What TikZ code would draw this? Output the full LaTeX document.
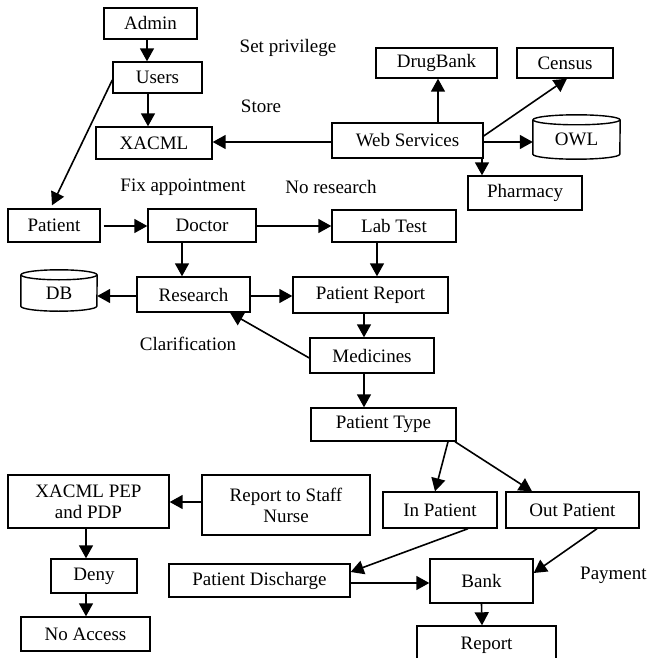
\documentclass[tikz,border=0pt]{standalone}
\usepackage{fontspec}
\setmainfont{Liberation Serif}
\usetikzlibrary{arrows.meta}
\begin{document}
\begin{tikzpicture}[x=1pt,y=-1pt,
  bx/.style={draw, line width=1.4pt, inner sep=0pt, align=center, font=\fontsize{19}{21}\selectfont},
  cy/.style={inner sep=0pt, align=center, font=\fontsize{19}{21}\selectfont},
  lbl/.style={inner sep=0pt, font=\fontsize{19}{21}\selectfont},
  arr/.style={-{Triangle[length=13pt,width=14pt]}, line width=1.6pt}]
\useasboundingbox (0,0) rectangle (649,658);
% boxes
\node[bx, minimum width=93pt, minimum height=31pt] (admin) at (150.5,23.5) {Admin};
\node[bx, minimum width=89pt, minimum height=31pt] (users) at (157.5,77.5) {Users};
\node[bx, minimum width=116pt, minimum height=32pt] (xacml) at (154,143) {XACML};
\node[bx, minimum width=151pt, minimum height=35pt] (ws) at (407.5,140.5) {Web Services};
\node[bx, minimum width=121pt, minimum height=30pt] (drug) at (436.5,63) {DrugBank};
\node[bx, minimum width=96pt, minimum height=30pt] (census) at (565,63) {Census};
\node[cy, minimum width=87pt, minimum height=44pt] (owl) at (576.5,137) {};
\node[cy] (owltxt) at (576.5,139.5) {OWL};
\node[bx, minimum width=114pt, minimum height=34pt] (pharm) at (525,193) {Pharmacy};
\node[bx, minimum width=92pt, minimum height=33pt] (patient) at (54,225.5) {Patient};
\node[bx, minimum width=108pt, minimum height=33pt] (doctor) at (202,225.5) {Doctor};
\node[bx, minimum width=124pt, minimum height=32pt] (lab) at (394,226) {Lab Test};
\node[cy, minimum width=76pt, minimum height=41pt] (db) at (59,290.5) {};
\node[cy] (dbtxt) at (59,293.5) {DB};
\node[bx, minimum width=113pt, minimum height=35pt] (research) at (193.5,294.5) {Research};
\node[bx, minimum width=155pt, minimum height=36pt] (prep) at (370.5,295) {Patient Report};
\node[bx, minimum width=124pt, minimum height=35pt] (med) at (372,355.5) {Medicines};
\node[bx, minimum width=145pt, minimum height=33pt] (ptype) at (383.5,424.5) {Patient Type};
\node[bx, minimum width=114pt, minimum height=36pt] (inp) at (440,510) {In Patient};
\node[bx, minimum width=133pt, minimum height=36pt] (outp) at (572.5,510) {Out Patient};
\node[bx, minimum width=161pt, minimum height=53pt] (pep) at (88.5,501.5) {XACML PEP\\and PDP};
\node[bx, minimum width=168pt, minimum height=60pt] (rsn) at (286,505) {Report to Staff\\Nurse};
\node[bx, minimum width=181pt, minimum height=33pt] (disc) at (259.5,580.5) {Patient Discharge};
\node[bx, minimum width=103pt, minimum height=44pt] (bank) at (481.5,581) {Bank};
\node[bx, minimum width=86pt, minimum height=34pt] (deny) at (94,576) {Deny};
\node[bx, minimum width=129pt, minimum height=34pt] (noacc) at (85.5,634) {No Access};
\node[bx, minimum width=139pt, minimum height=38pt] (report) at (486.5,645) {Report};
% cylinders
\draw[line width=1.4pt] ([yshift=-5pt]db.north west) -- ([yshift=5pt]db.south west)
  arc[start angle=180,end angle=360,x radius=38pt,y radius=5pt] -- ([yshift=-5pt]db.north east);
\draw[line width=1.4pt] ([yshift=-5pt]db.north) ellipse[x radius=38pt,y radius=5pt];
\draw[line width=1.4pt] ([yshift=-5pt]owl.north west) -- ([yshift=5pt]owl.south west)
  arc[start angle=180,end angle=360,x radius=43.5pt,y radius=5pt] -- ([yshift=-5pt]owl.north east);
\draw[line width=1.4pt] ([yshift=-5pt]owl.north) ellipse[x radius=43.5pt,y radius=5pt];
% labels
\node[lbl] (setp) at (288,48) {Set privilege};
\node[lbl] (store) at (261,106) {Store};
\node[lbl] (fix) at (183,187) {Fix appointment};
\node[lbl] (nores) at (331,187) {No research};
\node[lbl] (clar) at (188,344) {Clarification};
\node[lbl, anchor=west] (pay) at (580,575) {Payment};
% arrows
\draw[arr] ([xshift=-3.5pt]admin.south) -- ([xshift=-10.5pt]users.north);
\draw[arr] ([xshift=-9.5pt]users.south) -- ([xshift=-6pt]xacml.north);
\draw[arr] ([yshift=-2.5pt]users.west) -- ([xshift=-2pt,yshift=3pt]patient.north);
\draw[arr] ([yshift=-1.5pt]ws.west) -- ([yshift=1pt]xacml.east);
\draw[arr] ([xshift=30.5pt]ws.north) -- ([xshift=1.5pt]drug.south);
\draw[arr] ([yshift=4.5pt]ws.east) -- ([xshift=2pt]census.south);
\draw[arr] ([yshift=-1.5pt]ws.east) -- ([yshift=-5pt]owl.west);
\draw[arr] ([xshift=74.5pt]ws.south) -- ([xshift=-43pt]pharm.north);
\draw[arr] ([xshift=3pt,yshift=-0.5pt]patient.east) -- ([yshift=-0.5pt]doctor.west);
\draw[arr] ([yshift=-0.5pt]doctor.east) -- (lab.west);
\draw[arr] ([xshift=-20pt]doctor.south) -- ([xshift=-11.5pt]research.north);
\draw[arr] ([xshift=-17pt]lab.south) -- ([xshift=6.5pt]prep.north);
\draw[arr] ([yshift=-1.5pt]research.west) -- ([yshift=-5.5pt]db.east);
\draw[arr] ([yshift=-1.5pt]research.east) -- ([yshift=-1pt]prep.west);
\draw[arr] ([xshift=-6.5pt]prep.south) -- ([xshift=-8pt]med.north);
\draw[arr] ([yshift=-2.5pt]med.west) -- ([xshift=36.5pt]research.south);
\draw[arr] ([xshift=-8pt]med.south) -- ([xshift=-19.5pt]ptype.north);
\draw[arr] ([xshift=64.5pt]ptype.south) -- ([xshift=-5pt]inp.north);
\draw[arr] ([xshift=71.5pt]ptype.south) -- ([xshift=-40.5pt]outp.north);
\draw[arr] ([xshift=28pt]inp.south) -- ([yshift=8.5pt]disc.east);
\draw[arr] ([xshift=24.5pt]outp.south) -- ([yshift=8pt]bank.east);
\draw[arr] ([yshift=-2.5pt]disc.east) -- ([yshift=-2pt]bank.west);
\draw[arr] (bank.south) -- ([xshift=-4.5pt]report.north);
\draw[arr] ([yshift=3pt]rsn.west) -- ([yshift=-0.5pt]pep.east);
\draw[arr] ([xshift=-2.5pt]pep.south) -- ([xshift=-8pt]deny.north);
\draw[arr] ([xshift=-8pt]deny.south) -- ([xshift=0.5pt]noacc.north);
\end{tikzpicture}
\end{document}
